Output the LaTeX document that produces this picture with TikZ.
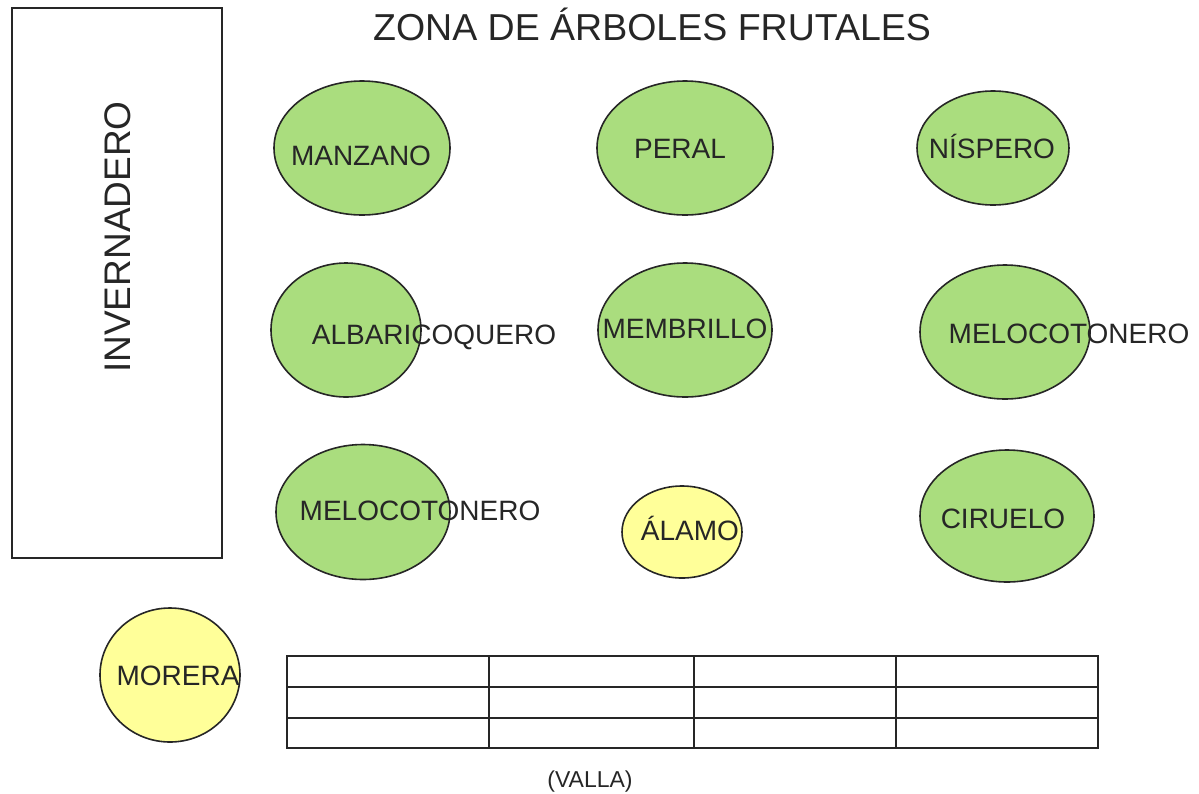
\documentclass[tikz,border=0pt]{standalone}
\usepackage{fontspec}
\setmainfont{Liberation Sans}
\usetikzlibrary{shapes.geometric}
\definecolor{treegreen}{RGB}{170,221,126}
\definecolor{treeyellow}{RGB}{255,255,153}
\tikzset{
  tree/.style={ellipse, draw=black!85, line width=1.6pt, fill=treegreen, inner sep=0pt},
  ytree/.style={tree, fill=treeyellow},
  lbl/.style={anchor=base, inner sep=0pt, font=\fontsize{28}{28}\selectfont, text=black!85},
  fence/.style={draw=black!85, line width=1.6pt}
}
\begin{document}
\begin{tikzpicture}[x=1pt,y=-1pt]
\useasboundingbox (0,0) rectangle (1199,793);
% title
\node[lbl, font=\fontsize{37.5}{37.5}\selectfont] (title) at (652,40) {ZONA DE ÁRBOLES FRUTALES};
% greenhouse
\node[draw=black!85, line width=1.6pt, minimum width=210pt, minimum height=550pt, inner sep=0pt] (inv) at (117,283) {};
\node[lbl, font=\fontsize{37}{37}\selectfont, rotate=90] (invlbl) at (130,237) {INVERNADERO};
% trees
\node[tree, minimum width=176pt, minimum height=134pt] (manzano) at (362,148) {};
\node[lbl] (manzanolbl) at (361,165) {MANZANO};
\node[tree, minimum width=176pt, minimum height=134pt] (peral) at (685,148) {};
\node[lbl] (perallbl) at (680,158) {PERAL};
\node[tree, minimum width=152pt, minimum height=114pt] (nispero) at (993,148) {};
\node[lbl] (nisperolbl) at (992,158) {NÍSPERO};
\node[tree, minimum width=150pt, minimum height=134pt] (albaricoquero) at (346,330) {};
\node[lbl] (albaricoquerolbl) at (434,344) {ALBARICOQUERO};
\node[tree, minimum width=174pt, minimum height=134pt] (membrillo) at (685,330) {};
\node[lbl] (membrillolbl) at (685,338) {MEMBRILLO};
\node[tree, minimum width=170pt, minimum height=134pt] (melocotonero1) at (1005,332) {};
\node[lbl] (melocotonero1lbl) at (1069,343) {MELOCOTONERO};
\node[tree, minimum width=174pt, minimum height=135pt] (melocotonero2) at (363,512) {};
\node[lbl] (melocotonero2lbl) at (420,520) {MELOCOTONERO};
\node[ytree, minimum width=120pt, minimum height=92pt] (alamo) at (682,532) {};
\node[lbl] (alamolbl) at (690,540) {ÁLAMO};
\node[tree, minimum width=174pt, minimum height=132pt] (ciruelo) at (1007,516) {};
\node[lbl] (ciruelolbl) at (1003,528) {CIRUELO};
\node[ytree, minimum width=140pt, minimum height=134pt] (morera) at (170,675) {};
\node[lbl] (moreralbl) at (178,685) {MORERA};
% fence
\draw[fence] (287,656) rectangle (1098,748);
\draw[fence] (287,687) -- (1098,687);
\draw[fence] (287,718) -- (1098,718);
\draw[fence] (489,656) -- (489,748);
\draw[fence] (694,656) -- (694,748);
\draw[fence] (896,656) -- (896,748);
\node[lbl, font=\fontsize{23}{23}\selectfont] (valla) at (590,787) {(VALLA)};
\end{tikzpicture}
\end{document}
